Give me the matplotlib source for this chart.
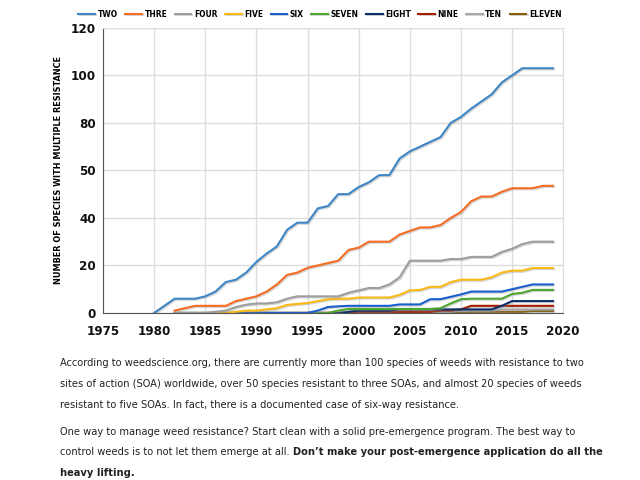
import os
import numpy as np
import matplotlib
matplotlib.use('Agg')
import matplotlib.pyplot as plt
import matplotlib.patheffects as pe
from matplotlib import font_manager
from matplotlib.font_manager import FontProperties

# look for a condensed face, else fall back to Roboto
reg_file, bold_file = None, None
for f in font_manager.fontManager.ttflist:
    base = os.path.basename(f.fname)
    if ('Condensed' in base or 'Narrow' in base) and 'Oblique' not in base and 'Italic' not in base:
        if 'Bold' in base:
            bold_file = bold_file or f.fname
        else:
            reg_file = reg_file or f.fname
if reg_file and bold_file:
    fp_reg = FontProperties(fname=reg_file)
    fp_bold = FontProperties(fname=bold_file)
else:
    fp_reg = FontProperties(family='Roboto')
    fp_bold = FontProperties(family='Roboto', weight='bold')
plt.rcParams['font.family'] = ['Roboto', 'DejaVu Sans']

years = list(range(1980, 2020))
N = None

two = [0, 3, 6, 6, 6, 7, 9, 13, 14, 17, 21.5, 25, 28, 35, 38, 38, 44, 45, 50, 50,
       53, 55, 58, 58, 65, 68, 70, 72, 74, 80, 82.5, 86, 89, 92, 97, 100, 103, 103, 103, 103]
thre = [N, N, 1, 2, 3, 3, 3, 3, 5, 6, 7, 9, 12, 16, 17, 19, 20, 21, 22, 26.5,
        27.5, 30, 30, 30, 33, 34.5, 36, 36, 37, 40, 42.5, 47, 49, 49, 51, 52.5, 52.5, 52.5, 53.5, 53.5]
four = [N, N, 0, 0, 0, 0, 0.5, 1, 2.5, 3.5, 4, 4, 4.5, 6, 7, 7, 7, 7, 7, 8.5,
        9.5, 10.5, 10.5, 12, 15, 22, 22, 22, 22, 22.7, 22.7, 23.6, 23.6, 23.6, 25.7, 27, 29, 30, 30, 30]
five = [N, N, 0, 0, 0, 0, 0, 0, 0.5, 1, 1, 1.5, 2, 3.4, 3.8, 4.2, 5, 5.8, 6, 6,
        6.5, 6.5, 6.5, 6.5, 7.6, 9.5, 9.7, 11, 11, 13, 14, 14, 14, 15, 17, 17.8, 17.8, 18.9, 18.9, 18.9]
six = [N, N, 0, 0, 0, 0, 0, 0, 0, 0, 0, 0, 0, 0, 0, 0, 1, 2.5, 2.8, 3,
       3, 3, 3, 3, 3.6, 3.6, 3.6, 5.8, 5.8, 6.8, 7.8, 9, 9, 9, 9, 10, 11, 12, 12, 12]
seven = [N, N, 0, 0, 0, 0, 0, 0, 0, 0, 0, 0, 0, 0, 0, 0, 0, 0, 1, 1.7,
         1.7, 1.7, 1.7, 1.7, 1.7, 1.7, 1.7, 1.7, 2, 4, 5.8, 6, 6, 6, 6, 8, 8.5, 9.7, 9.7, 9.7]
eight = [N, N, 0, 0, 0, 0, 0, 0, 0, 0, 0, 0, 0, 0, 0, 0, 0, 0, 0, 0.5,
         1, 1, 1, 1, 1.5, 1.5, 1.5, 1.5, 1.5, 1.5, 1.5, 1.5, 1.5, 1.5, 3, 5, 5, 5, 5, 5]
nine = [N, N, N, N, N, N, N, N, 0, 0, 0, 0, 0, 0, 0, 0, 0, 0, 0, 0,
        0.5, 0.5, 0.5, 0.5, 0.5, 0.5, 0.5, 0.5, 1, 1, 1.5, 3, 3, 3, 3, 3, 3, 3, 3, 3]
ten = [N, N, N, N, N, N, N, N, 0, 0, 0, 0, 0, 0, 0, 0, 0, 0, 0, 0,
       0, 0, 0, 0.5, 0.5, 0.5, 0.5, 0.5, 0.5, 0.5, 1, 1, 1, 1, 1.5, 1.5, 1.5, 1.5, 1.5, 1.5]
eleven = [N, N, N, N, N, N, N, N, 0, 0, 0, 0, 0, 0, 0, 0, 0, 0, 0, 0,
          0, 0, 0, 0, 0, 0, 0, 0, 0, 0, 0, 0.5, 0.5, 0.5, 0.5, 0.5, 0.5, 0.8, 0.8, 0.8]

labels = ['TWO', 'THRE', 'FOUR', 'FIVE', 'SIX', 'SEVEN', 'EIGHT', 'NINE', 'TEN', 'ELEVEN']
series = [two, thre, four, five, six, seven, eight, nine, ten, eleven]
colors = ['#3d85c6', '#f46d22', '#9e9e9e', '#fbb917', '#1a5fce', '#4ea72e',
          '#0b2f6b', '#a61c00', '#a8a8a8', '#8a5d0a']

yticks = [0, 20, 40, 60, 80, 100, 120]
ytick_labels = ['0', '20', '40', '50', '80', '100', '120']
xticks = [1975, 1980, 1985, 1990, 1995, 2000, 2005, 2010, 2015, 2020]

fig = plt.figure(figsize=(6.4, 4.8), dpi=100)
ax = fig.add_axes([0.161, 0.348, 0.719, 0.594])

shadow = [pe.SimpleLineShadow(offset=(0.8, -0.8), shadow_color='#888888', alpha=0.35), pe.Normal()]
handles = []
for lab, vals, c in reversed(list(zip(labels, series, colors))):
    y = np.array([np.nan if v is None else v for v in vals], dtype=float)
    ln, = ax.plot(years, y, color=c, lw=1.5, label=lab, path_effects=shadow)
    handles.append(ln)
handles = handles[::-1]

tick_fp = fp_bold.copy()
tick_fp.set_size(9.5)
ax.set_xlim(1975, 2020)
ax.set_ylim(0, 120)
ax.set_xticks(xticks)
ax.set_xticklabels([str(x) for x in xticks], fontproperties=tick_fp)
ax.set_yticks(yticks)
ax.set_yticklabels(ytick_labels, fontproperties=tick_fp)
ax.tick_params(axis='y', length=0, pad=5, colors='#111111')
ax.tick_params(axis='x', length=0, pad=9, colors='#111111')
ax.grid(True, color='#dddddd', lw=1)
ax.set_axisbelow(True)
for s in ['top', 'right']:
    ax.spines[s].set_color('#dddddd')
for s in ['left', 'bottom']:
    ax.spines[s].set_color('#555555')
ylab_fp = fp_bold.copy()
ylab_fp.set_size(6.5)
ax.set_ylabel('NUMBER OF SPECIES WITH MULTIPLE RESISTANCE', fontproperties=ylab_fp, labelpad=6)

leg_fp = fp_bold.copy()
leg_fp.set_size(6)
fig.legend(handles, labels, loc='upper center', bbox_to_anchor=(0.5, 0.995), ncol=10,
           frameon=False, prop=leg_fp, handlelength=2.0,
           handletextpad=0.3, columnspacing=0.9)

# caption text, sized so the first line spans the same width as in the reference
txt_color = '#222222'
x0 = 0.094
lines = [
    (363, 'According to weedscience.org, there are currently more than 100 species of weeds with resistance to two'),
    (384, 'sites of action (SOA) worldwide, over 50 species resistant to three SOAs, and almost 20 species of weeds'),
    (405, 'resistant to five SOAs. In fact, there is a documented case of six-way resistance.'),
    (432, 'One way to manage weed resistance? Start clean with a solid pre-emergence program. The best way to'),
]
renderer = fig.canvas.get_renderer()
probe = fig.text(x0, 0.5, lines[0][1], fontproperties=fp_reg, fontsize=10)
w = probe.get_window_extent(renderer=renderer).width
probe.remove()
fs = min(10.5, 10 * 527 / w)
fr = fp_reg.copy()
fr.set_size(fs)
fb = fp_bold.copy()
fb.set_size(fs)

for ypx, s in lines:
    fig.text(x0, 1 - ypx / 480, s, fontproperties=fr, color=txt_color, va='center')

t5 = fig.text(x0, 1 - 452 / 480, 'control weeds is to not let them emerge at all. ', fontproperties=fr,
              color=txt_color, va='center')
bb = t5.get_window_extent(renderer=renderer)
fig.text(bb.x1 / fig.bbox.width, 1 - 452 / 480, 'Don\u2019t make your post-emergence application do all the',
         fontproperties=fb, color=txt_color, va='center')
fig.text(x0, 1 - 473 / 480, 'heavy lifting.', fontproperties=fb, color=txt_color, va='center')

fig.savefig('out.png', dpi=100)
